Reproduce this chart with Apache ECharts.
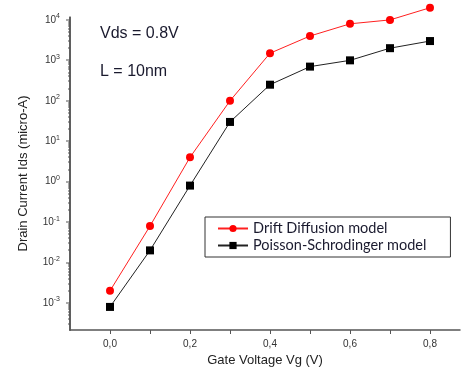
<!DOCTYPE html>
<html>
<head>
<meta charset="utf-8">
<script src="https://cdn.jsdelivr.net/npm/echarts@6/dist/echarts.min.js"></script>
<style>html,body{margin:0;padding:0;background:#fff;}#c{width:468px;height:379px;}</style>
</head>
<body>
<div id="c"></div>
<script>
var gateVoltage = [0.0, 0.1, 0.2, 0.3, 0.4, 0.5, 0.6, 0.7, 0.8];
var driftDiffusion = [0.002, 0.08, 4, 100, 1500, 4000, 8000, 10000, 20000];
var poissonSchrodinger = [0.0008, 0.02, 0.8, 30, 250, 700, 1000, 2000, 3000];
var xTickValues = [0, 0.1, 0.2, 0.3, 0.4, 0.5, 0.6, 0.7, 0.8];
var xLabelValues = [0, 0.2, 0.4, 0.6, 0.8];
var yLabelValues = [0.001, 0.01, 0.1, 1, 10, 100, 1000, 10000];
var seriesNames = ['Drift Diffusion model', 'Poisson-Schrodinger model'];
var yRange = [0.000215, 11800];
var xRange = [-0.1, 0.875];

var lg = function (v) { return Math.log10(v); };
var yTickValues = [];
for (var e = -4; e <= 4; e++) {
  for (var k = 1; k <= 9; k++) {
    var v = k * Math.pow(10, e);
    if (v > yRange[0] && v < yRange[1]) yTickValues.push(lg(v));
  }
}

function pairs(xs, ys) { return xs.map(function (x, i) { return [x, lg(ys[i])]; }); }

var G = { left: 70, right: 8, top: 17, bottom: 49 };
var W = 468, H = 379;
var chart = echarts.init(document.getElementById('c'));
var font = 'Liberation Sans';
var axisColor = '#555';

var yMin = lg(yRange[0]), yMax = lg(yRange[1]);
var plotBottom = H - G.bottom, plotTop = G.top;
function yPix(t) { return plotBottom - (t - yMin) / (yMax - yMin) * (plotBottom - plotTop); }

var elements = [
  { type: 'text', left: 100, top: 26, style: { text: 'Vds = 0.8V', fontFamily: font, fontSize: 16, fill: '#1a1a2e' } },
  { type: 'text', left: 100, top: 64, style: { text: 'L = 10nm', fontFamily: font, fontSize: 16, fill: '#1a1a2e' } },
  { type: 'rect', shape: { x: G.left - 0.75, y: plotTop, width: 1.5, height: plotBottom - plotTop + 0.75 },
    style: { fill: axisColor }, z: 100 }
];
yTickValues.forEach(function (tv) {
  var major = Math.abs(tv - Math.round(tv)) < 1e-9;
  var len = major ? 4 : 2;
  elements.push({ type: 'rect', shape: { x: G.left - len, y: Math.round(yPix(tv)) - 0.5, width: len, height: 1 },
    style: { fill: axisColor }, z: 100 });
});

chart.setOption({
  animation: false,
  backgroundColor: '#fff',
  grid: G,
  legend: {
    orient: 'vertical',
    left: 205, top: 217,
    padding: [4, 24, 4, 12],
    itemGap: 2,
    itemWidth: 30, itemHeight: 9,
    borderColor: '#333', borderWidth: 1,
    backgroundColor: '#fff',
    textStyle: { fontFamily: 'Lato', fontSize: 14.5, color: '#1a1a2e' },
    data: seriesNames
  },
  xAxis: {
    type: 'value', min: xRange[0], max: xRange[1],
    name: 'Gate Voltage Vg (V)', nameLocation: 'middle', nameGap: 21,
    nameTextStyle: { fontFamily: font, fontSize: 13, color: '#222' },
    axisLine: { show: true, onZero: false, lineStyle: { color: axisColor, width: 1.5 } },
    axisTick: { show: true, customValues: xTickValues, length: 4, inside: false, lineStyle: { color: axisColor } },
    axisLabel: {
      customValues: xLabelValues, margin: 9,
      fontFamily: font, fontSize: 10, color: '#333',
      formatter: function (v) { return v.toFixed(1).replace('.', ','); }
    },
    splitLine: { show: false }
  },
  yAxis: {
    type: 'value', min: yMin, max: yMax,
    name: 'Drain Current Ids (micro-A)', nameLocation: 'middle', nameGap: 40,
    nameTextStyle: { fontFamily: font, fontSize: 13, color: '#222' },
    axisLine: { show: true, onZero: false, lineStyle: { color: axisColor, width: 1.5 } },
    axisTick: { show: false },
    axisLabel: {
      customValues: yLabelValues.map(lg), margin: 10,
      formatter: function (v) {
        return '{b|10}{s|' + Math.round(v) + '}';
      },
      rich: {
        b: { fontFamily: font, fontSize: 10, color: '#333' },
        s: { fontFamily: font, fontSize: 7, color: '#333', padding: [0, 0, 7, 0] }
      }
    },
    splitLine: { show: false }
  },
  series: [{
    name: seriesNames[0], type: 'line',
    data: pairs(gateVoltage, driftDiffusion),
    symbol: 'circle', symbolSize: 8, clip: false,
    itemStyle: { color: '#ff0000' },
    lineStyle: { color: '#ff2020', width: 1 }
  }, {
    name: seriesNames[1], type: 'line',
    data: pairs(gateVoltage, poissonSchrodinger),
    symbol: 'rect', symbolSize: 8, clip: false,
    itemStyle: { color: '#000' },
    lineStyle: { color: '#222', width: 1 }
  }],
  graphic: { elements: elements }
});
</script>
</body>
</html>
